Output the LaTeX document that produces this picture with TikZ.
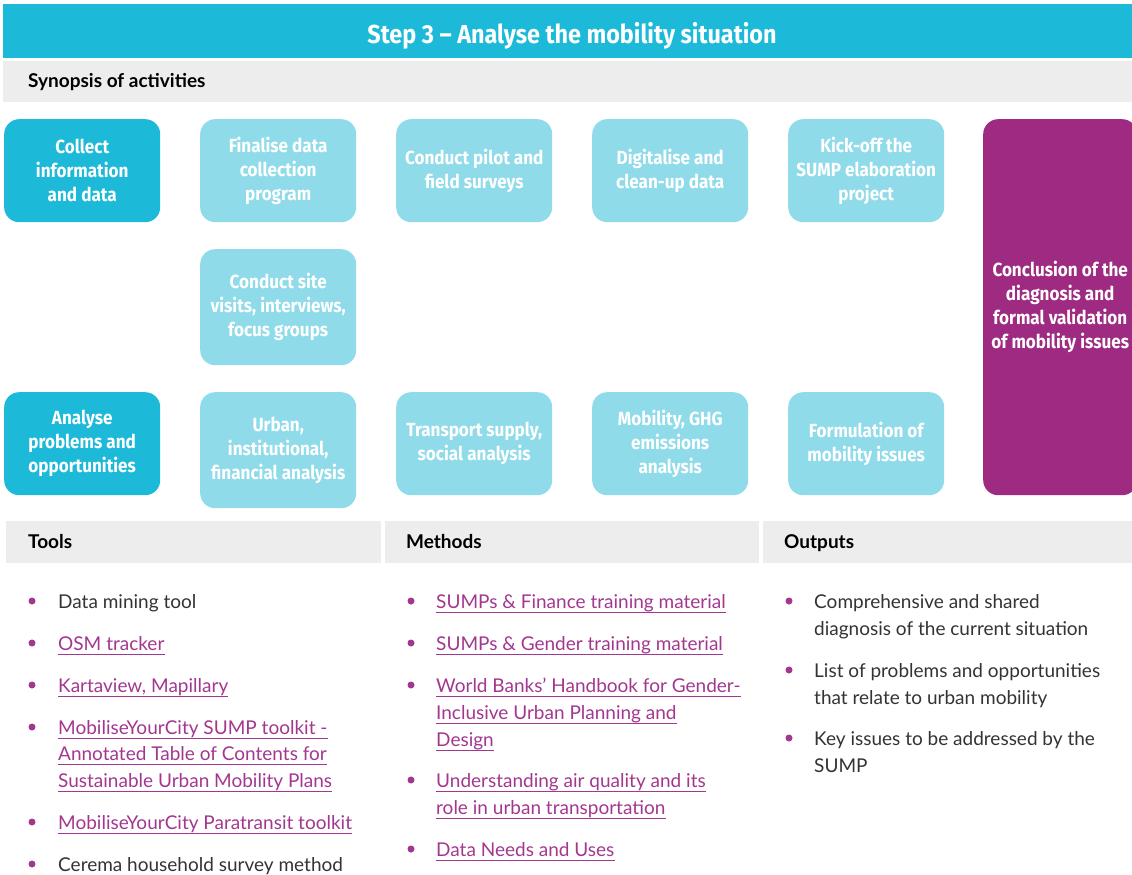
\documentclass[tikz,border=0pt]{standalone}
\usepackage{fontspec}
\setmainfont{Lato}
\newfontfamily\stepfont[FakeStretch=0.9]{Fira Sans}
\definecolor{stepcyan}{HTML}{1CB9D9}
\definecolor{palecyan}{HTML}{8FDBEA}
\definecolor{conclpurple}{HTML}{9E2A82}
\definecolor{bargray}{HTML}{EDEDED}
\definecolor{linkpurple}{HTML}{A3378F}
\definecolor{textgray}{HTML}{333333}
\tikzstyle{activity}=[rounded corners=15pt,fill=palecyan,text=white,align=center,anchor=north west,
  minimum width=156pt,inner sep=2pt,font=\stepfont\bfseries\fontsize{19}{24}\selectfont]
\tikzstyle{main activity}=[activity,fill=stepcyan]
\tikzstyle{bar}=[fill=bargray]
\tikzstyle{bar title}=[anchor=base west,inner sep=0pt,text=black,font=\bfseries\fontsize{19}{22}\selectfont]
\tikzstyle{item}=[anchor=base west,inner sep=0pt,text=textgray,font=\fontsize{19}{26}\selectfont]
\tikzstyle{link item}=[item,text=linkpurple]
\tikzstyle{link line}=[draw=linkpurple,line width=0.9pt]
\tikzstyle{bullet}=[fill=linkpurple]

\begin{document}
\begin{tikzpicture}[x=1pt,y=-1pt]
    \useasboundingbox (0,0) rectangle (1132,875);
    % Title and synopsis bars
    \fill[stepcyan] (3,4) rectangle (1132,58);
    \node[text=white,font=\stepfont\bfseries\fontsize{26}{30}\selectfont] (title) at (572,36) {Step 3 – Analyse the mobility situation};
    \fill[bar] (3,61) rectangle (1132,102);
    \node[bar title] (synopsis) at (28,88) {Synopsis of activities};

    % Activity boxes
    \node[main activity,minimum height=103pt] (collect) at (4,119) {Collect\\information\\and data};
    \node[main activity,minimum height=103pt] (analyse) at (4,392) {Analyse\\problems and\\opportunities};
    \foreach \pos/\h/\name/\txt in {{(200,119)/103/finalise/{Finalise data\\collection\\program}},
        {(396,119)/103/pilot/{Conduct pilot and\\field surveys}},
        {(592,119)/103/digitalise/{Digitalise and\\clean-up data}},
        {(788,119)/103/kickoff/{Kick-off the\\SUMP elaboration\\project}},
        {(200,249)/116/visits/{Conduct site\\visits, interviews,\\focus groups}},
        {(200,392)/116/urban/{Urban,\\institutional,\\financial analysis}},
        {(396,392)/103/supply/{Transport supply,\\social analysis}},
        {(592,392)/103/ghg/{Mobility, GHG\\emissions\\analysis}},
        {(788,392)/103/issues/{Formulation of\\mobility issues}}}
        \node[activity,minimum height=\h pt] (\name) at \pos {\txt};
    \node[activity,fill=conclpurple,minimum width=154pt,minimum height=376pt] (conclusion) at (983,119)
        {Conclusion of the\\diagnosis and\\formal validation\\of mobility issues};

    % Column bars
    \fill[bar] (6,521) rectangle (381,563);
    \fill[bar] (385,521) rectangle (759,563);
    \fill[bar] (763,521) rectangle (1132,563);
    \node[bar title] (tools) at (28,548) {Tools};
    \node[bar title] (methods) at (406,548) {Methods};
    \node[bar title] (outputs) at (784,548) {Outputs};

    % Bullets
    \foreach \y in {601,643,685,727,822,864}
        \fill[bullet] (32,\y) circle (3.5pt);
    \foreach \y in {601,643,685,780,849}
        \fill[bullet] (411,\y) circle (3.5pt);
    \foreach \y in {601,670,738}
        \fill[bullet] (789,\y) circle (3.5pt);

    % Tools
    \node[item] (tool-a) at (58,608) {Data mining tool};
    \node[item] (tool-b) at (58,871) {Cerema household survey method};
    \foreach \y/\txt [count=\i] in {650/{OSM tracker},
        692/{Kartaview, Mapillary},
        734/{MobiliseYourCity SUMP toolkit -\ },
        760/{Annotated Table of Contents for\ },
        787/{Sustainable Urban Mobility Plans},
        829/{MobiliseYourCity Paratransit toolkit}}
    {
        \node[link item] (tool-\i) at (58,\y) {\txt};
        \path[link line] ([yshift=-4pt]tool-\i.base west) -- ([yshift=-4pt]tool-\i.base east);
    }

    % Methods
    \foreach \y/\txt [count=\i] in {608/{SUMPs \& Finance training material},
        650/{SUMPs \& Gender training material},
        692/{World Banks’ Handbook for Gender-},
        719/{Inclusive Urban Planning and\ },
        746/{Design},
        787/{Understanding air quality and its\ },
        814/{role in urban transportation},
        856/{Data Needs and Uses}}
    {
        \node[link item] (method-\i) at (436,\y) {\txt};
        \path[link line] ([yshift=-4pt]method-\i.base west) -- ([yshift=-4pt]method-\i.base east);
    }

    % Outputs
    \foreach \y/\txt [count=\i] in {608/{Comprehensive and shared},
        635/{diagnosis of the current situation},
        677/{List of problems and opportunities},
        704/{that relate to urban mobility},
        745/{Key issues to be addressed by the},
        772/{SUMP}}
        \node[item] (output-\i) at (814,\y) {\txt};
\end{tikzpicture}
\end{document}
